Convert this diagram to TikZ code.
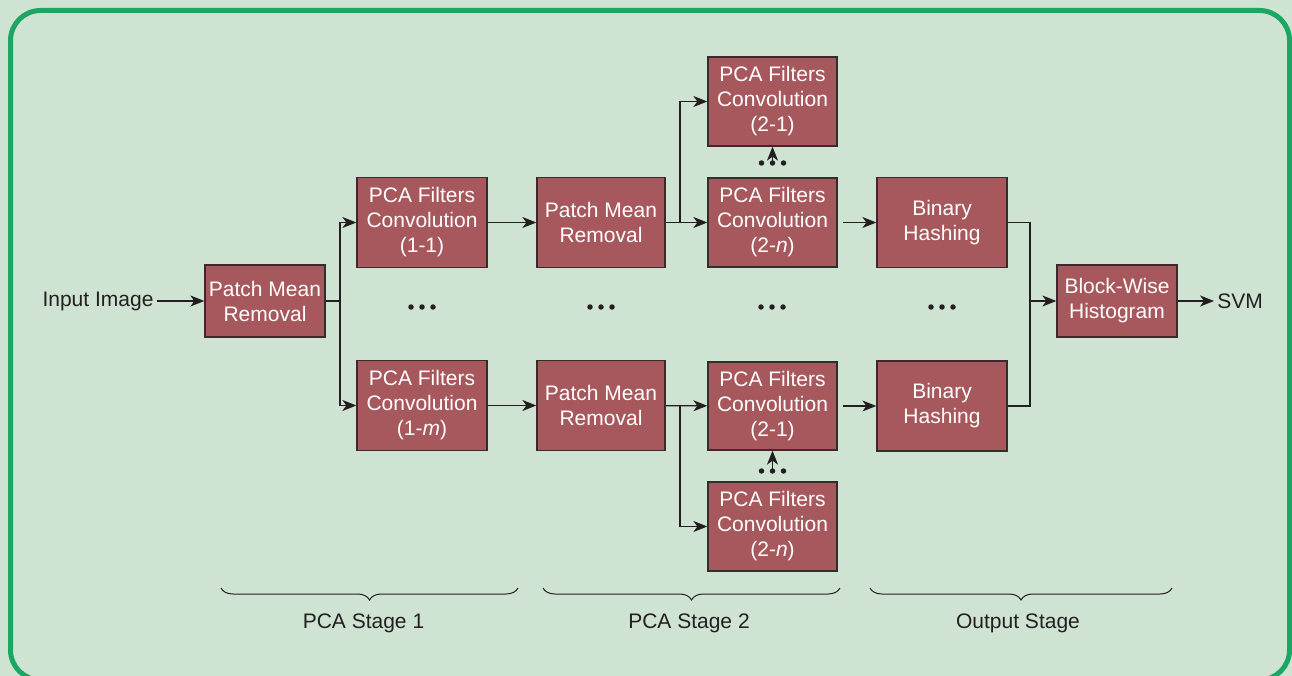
\documentclass[tikz,border=0pt]{standalone}
\usepackage{fontspec}
\setmainfont{Liberation Sans}
\usetikzlibrary{arrows.meta,decorations.pathreplacing}
\definecolor{bgc}{HTML}{CFE3D3}
\definecolor{framec}{HTML}{1BA664}
\definecolor{boxc}{HTML}{A7585C}
\definecolor{linec}{HTML}{231F20}
\definecolor{boxline}{HTML}{3A2A2B}
\begin{document}
\begin{tikzpicture}[x=1pt,y=-1pt,
  every node/.style={font=\fontsize{21}{25}\selectfont, text=linec},
  stagebox/.style={draw=boxline, fill=boxc, line width=1.3pt, inner sep=0pt,
    align=center, minimum width=130pt, minimum height=90pt,
    font=\fontsize{21}{25}\selectfont, text=white},
  smallbox/.style={stagebox, minimum width=120pt, minimum height=72pt},
  conn/.style={draw=linec, line width=1.3pt},
  arr/.style={conn, -{Stealth[length=14pt,width=11pt,inset=4pt]}},
  dot/.style={circle, fill=linec, inner sep=0pt, minimum size=5.5pt},
  bracestyle/.style={draw=linec, line width=1pt,
    decorate, decoration={brace, mirror, amplitude=12pt}},
  lbl/.style={text=linec}
]
\useasboundingbox (0,0) rectangle (1292,676);
\fill[bgc] (0,0) rectangle (1292,676);
\draw[framec, line width=5pt, fill=bgc, rounded corners=30pt] (10.5,10.5) rectangle (1289.5,680);

% boxes
\node[smallbox] (pmr1) at (265,301) {Patch Mean\\Removal};
\node[stagebox] (c11) at (422,222.5) {PCA Filters\\Convolution\\(1-1)};
\node[stagebox] (c1m) at (422,405.5) {PCA Filters\\Convolution\\(1-\textit{m})};
\node[stagebox, minimum width=128pt] (pmr2a) at (601,222.5) {Patch Mean\\Removal};
\node[stagebox, minimum width=128pt] (pmr2b) at (601,405.5) {Patch Mean\\Removal};
\node[stagebox, minimum width=129pt, minimum height=89pt] (c21a) at (772.5,101.5) {PCA Filters\\Convolution\\(2-1)};
\node[stagebox, minimum width=129pt, minimum height=89pt] (c2na) at (772.5,222.5) {PCA Filters\\Convolution\\(2-\textit{n})};
\node[stagebox, minimum width=129pt, minimum height=88pt] (c21b) at (772.5,406) {PCA Filters\\Convolution\\(2-1)};
\node[stagebox, minimum width=129pt, minimum height=89pt] (c2nb) at (772.5,526.5) {PCA Filters\\Convolution\\(2-\textit{n})};
\node[stagebox] (bha) at (942,222.5) {Binary\\Hashing};
\node[stagebox] (bhb) at (942,406) {Binary\\Hashing};
\node[smallbox] (bwh) at (1117,301) {Block-Wise\\Histogram};

\node[lbl, inner sep=3pt] (inp) at (98,301) {Input Image};
\node[lbl, inner sep=3pt] (svm) at (1240,301) {SVM};

% connectors
\draw[arr] (inp) -- (pmr1);
\coordinate (j1) at (340,301);
\draw[conn] (pmr1.east) -- (j1);
\draw[arr] (j1) |- (c11.west);
\draw[arr] (j1) |- (c1m.west);
\draw[arr] (c11) -- (pmr2a);
\draw[arr] (c1m) -- (pmr2b);
\draw[arr] (pmr2a) -- (c2na);
\coordinate (j2) at (680,222.5);
\draw[arr] (j2) |- (c21a.west);
\draw[arr] (pmr2b) -- (c21b);
\coordinate (j3) at (680,405.5);
\draw[arr] (j3) |- (c2nb.west);
\draw[arr] ([xshift=5pt]c2na.east) -- (bha.west);
\draw[arr] ([xshift=5pt]c21b.east) -- (bhb.west);
\coordinate (j4) at (1030,301);
\draw[conn] (bha.east) -| (j4) |- (bhb.east);
\draw[arr] (j4) -- (bwh.west);
\draw[arr] (bwh) -- (svm);

% dotted arrows between stacked filters
\coordinate (da) at (772.5,162);
\coordinate (db) at (772.5,469);
\draw[arr] (da) -- (c21a.south);
\draw[arr] (db) -- (c21b.south);
\foreach \xx in {-11,0,11} {
  \node[dot] at (772.5+\xx,163) {};
  \node[dot] at (772.5+\xx,471) {};
}
% middle ellipses
\foreach \cx in {422,601,772,942} {
  \foreach \xx in {-11,0,11} {
    \node[dot] at (\cx+\xx,307) {};
  }
}

% braces
\draw[bracestyle] (221,588) -- (518,588);
\draw[bracestyle] (543,588) -- (840,588);
\draw[bracestyle] (870,588) -- (1172,588);
\node[lbl] (s1) at (363.5,623) {PCA Stage 1};
\node[lbl] (s2) at (689,623) {PCA Stage 2};
\node[lbl] (s3) at (1018,623) {Output Stage};
\end{tikzpicture}
\end{document}
